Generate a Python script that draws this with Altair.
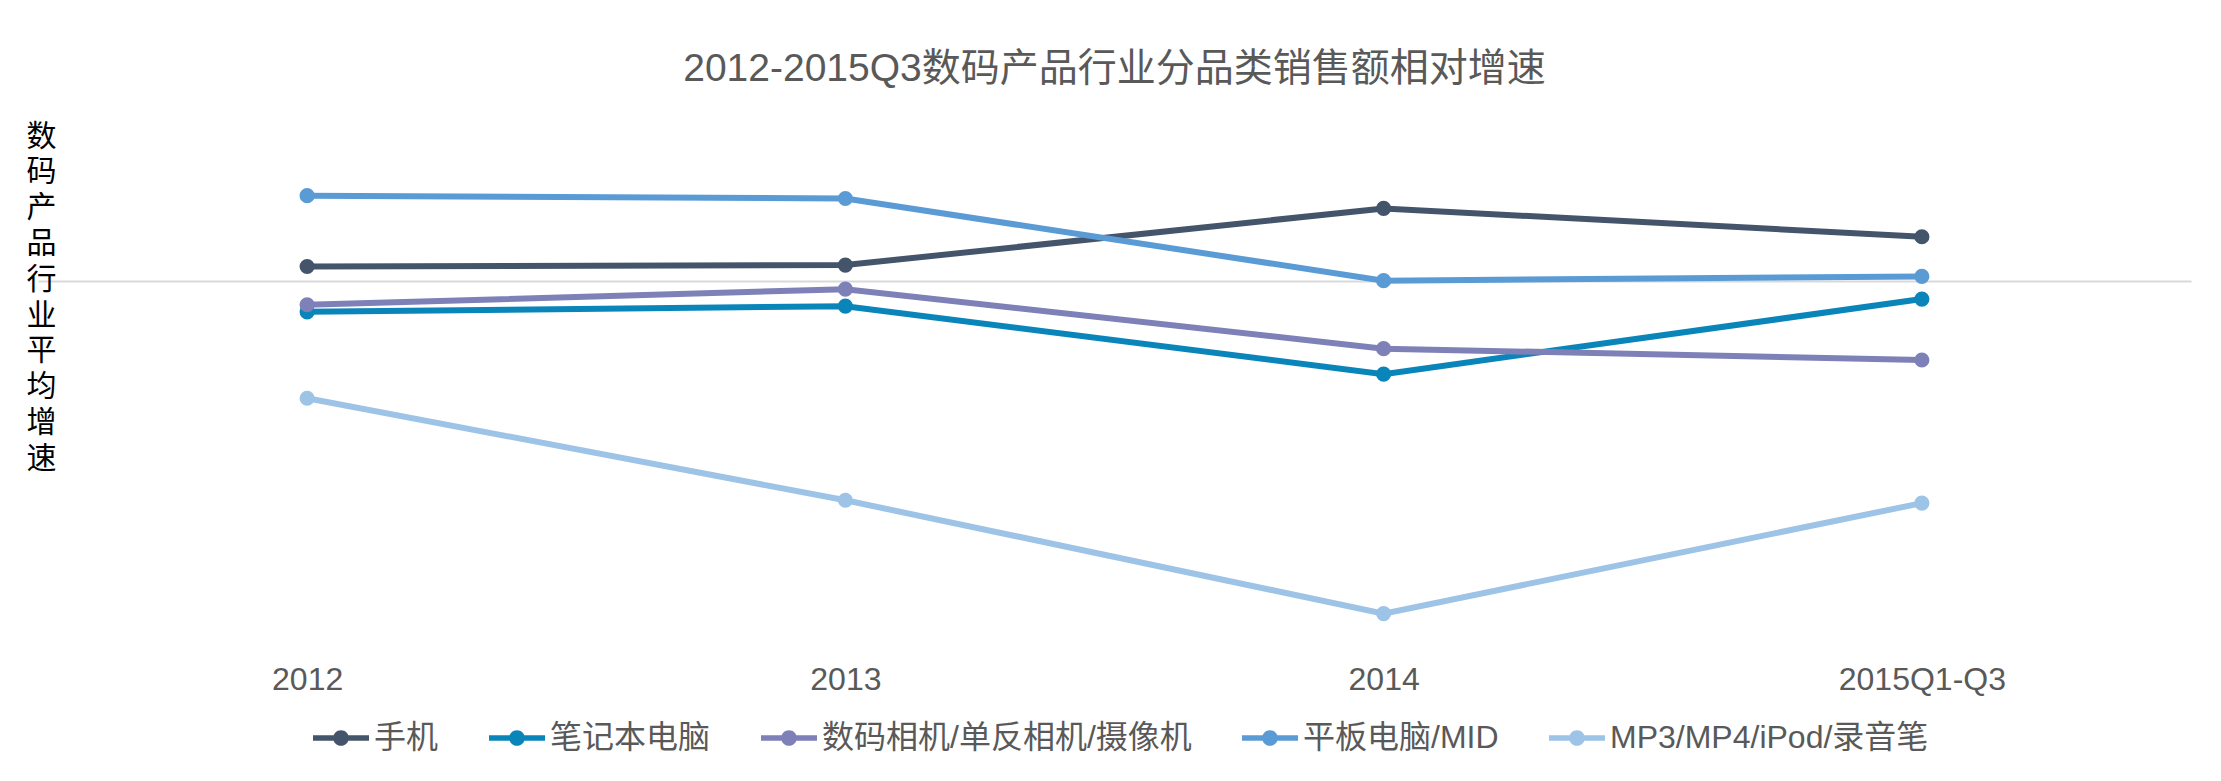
import altair as alt
import pandas as pd

categories = ["2012", "2013", "2014", "2015Q1-Q3"]
series = ["手机", "笔记本电脑", "数码相机/单反相机/摄像机", "平板电脑/MID", "MP3/MP4/iPod/录音笔"]
phone = [10, 11, 51, 31]
laptop = [-22, -18, -66, -13]
camera = [-17, -6, -48, -56]
tablet = [60, 58, 0, 3]
mp3 = [-83, -155, -235, -157]
colors = ["#44546A", "#0A85BA", "#7E80B8", "#5B9BD5", "#9DC3E6"]

y_title = list("数码产品行业平均增速")
title_text = "2012-2015Q3数码产品行业分品类销售额相对增速"

rows = []
for i, (name, vals) in enumerate(zip(series, [phone, laptop, camera, tablet, mp3])):
    for j, (c, v) in enumerate(zip(categories, vals)):
        rows.append({"品类": name, "年份": c, "增速": v, "s": i})
df = pd.DataFrame(rows)

FONT = "'Liberation Sans', 'Noto Sans CJK SC', sans-serif"

x_enc = alt.X("年份:N", sort=categories,
              scale=alt.Scale(type="point", padding=0.5),
              axis=alt.Axis(labelFontSize=32, labelColor="#595959", labelFont=FONT,
                            labelPadding=15, ticks=False, domain=False, grid=False,
                            title=None, labelAngle=0))
y_enc = alt.Y("增速:Q", scale=alt.Scale(domain=[-260, 100], nice=False, zero=False),
              axis=alt.Axis(values=[0], grid=True, gridColor="#D9D9D9", gridWidth=2,
                            domain=False, ticks=False, labels=False,
                            title=y_title, titleAngle=0, titleFontSize=30,
                            titleLineHeight=35.8, titleColor="#000000", titleFont=FONT,
                            titleFontWeight="normal", titleX=3, titleY=-18,
                            titleAlign="center", titleBaseline="top"))

color_scale = alt.Scale(domain=series, range=colors)

legend_symbol = ("M-1,-0.1L1,-0.1L1,0.1L-1,0.1Z "
                 "M0.28,0A0.28,0.28,0,1,1,-0.28,0A0.28,0.28,0,1,1,0.28,0Z")

legend = alt.Legend(orient="none", direction="horizontal",
                    legendX=275, legendY=571, title=None,
                    labelFontSize=32, labelColor="#595959",
                    labelFont=FONT, labelOffset=5, labelLimit=0,
                    columnPadding=50, symbolType=legend_symbol,
                    symbolSize=3136, symbolStrokeWidth=0,
                    symbolOpacity=1)

lines = alt.Chart(df).mark_line(strokeWidth=6, interpolate="linear").encode(
    x=x_enc, y=y_enc,
    color=alt.Color("品类:N", scale=color_scale, legend=legend),
    order=alt.Order("s:Q"),
    detail="品类:N",
)

points = alt.Chart(df).mark_point(filled=True, size=230, opacity=1).encode(
    x=x_enc, y=y_enc,
    color=alt.Color("品类:N", scale=color_scale, legend=legend),
    order=alt.Order("s:Q"),
)

chart = alt.layer(lines, points).properties(
    width=2153, height=510,
    padding={"left": 30, "top": 131, "right": 22, "bottom": 110},
    autosize=alt.AutoSizeParams(type="none"),
    background="white",
    title=alt.Title(title_text, fontSize=39, color="#595959", font=FONT,
                    fontWeight="normal", anchor="middle", frame="group", offset=32),
).configure_view(strokeWidth=0, strokeOpacity=0)

chart.save("out.html", embed_options={"renderer": "svg", "actions": False})
